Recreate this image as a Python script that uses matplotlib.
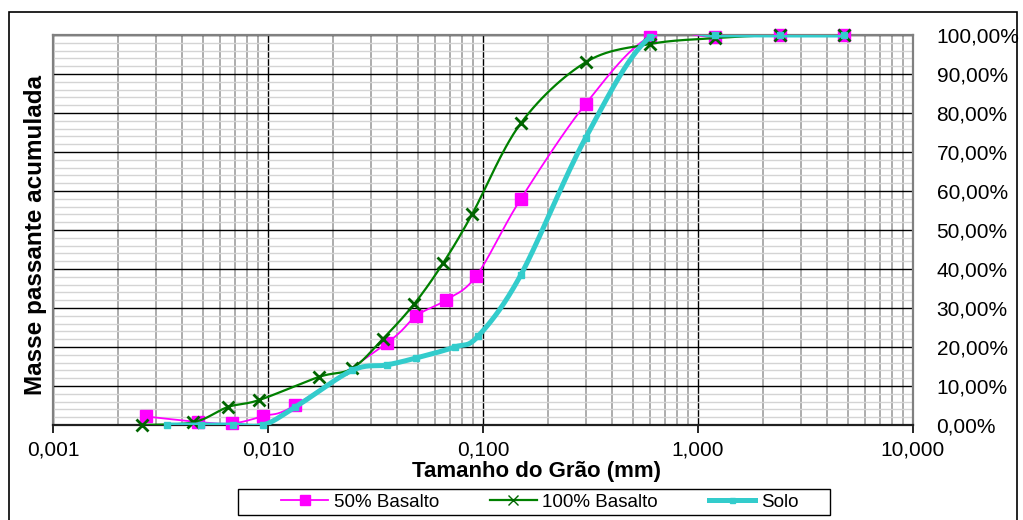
import matplotlib
matplotlib.use("Agg")
import matplotlib.pyplot as plt
import numpy as np
from matplotlib.lines import Line2D
from matplotlib.patches import Rectangle
from matplotlib.ticker import FixedLocator, LogLocator, MultipleLocator, FuncFormatter

plt.rcParams["font.family"] = ["Liberation Sans", "DejaVu Sans"]

# grain size (mm) and cumulative passing (%)
basalto50_x = [0.0027, 0.0047, 0.0068, 0.0095, 0.0134, 0.0357, 0.049, 0.067, 0.093,
               0.15, 0.3, 0.6, 1.2, 2.4, 4.8]
basalto50_y = [2.2, 0.8, 0.4, 2.3, 5.1, 21.0, 28.0, 32.0, 38.2,
               58.0, 82.3, 99.6, 99.5, 100.0, 100.0]

basalto100_x = [0.0026, 0.0045, 0.0065, 0.0091, 0.0172, 0.0246, 0.0341, 0.0478, 0.0652,
                0.0889, 0.15, 0.3, 0.6, 1.2, 2.4, 4.8]
basalto100_y = [0.0, 0.7, 4.6, 6.4, 12.3, 14.5, 22.0, 31.0, 41.5,
                54.0, 77.4, 93.0, 97.7, 99.2, 100.0, 100.0]

solo_x = [0.0034, 0.0049, 0.0069, 0.0095, 0.0134, 0.0246, 0.0357, 0.049, 0.074, 0.095,
          0.15, 0.3, 0.6, 1.2, 2.4, 4.8]
solo_y = [0.0, 0.0, 0.0, 0.0, 4.6, 14.0, 15.4, 17.2, 20.0, 22.8,
          38.5, 73.6, 99.5, 100.0, 100.0, 100.0]

series_names = ["50% Basalto", "100% Basalto", "Solo"]
x_ticks = [0.001, 0.01, 0.1, 1, 10]
x_labels = ["0,001", "0,010", "0,100", "1,000", "10,000"]


def smooth(xs, ys, n=30):
    """Bezier smoothing (Catmull-Rom) in log-x space, like spreadsheet smoothed lines."""
    p = np.column_stack([np.log10(xs), ys])
    pts = [p[0]]
    t = np.linspace(0, 1, n)[1:, None]
    for i in range(len(p) - 1):
        p0 = p[i - 1] if i > 0 else p[i]
        p1, p2 = p[i], p[i + 1]
        p3 = p[i + 2] if i + 2 < len(p) else p[i + 1]
        c1 = p1 + (p2 - p0) / 6
        c2 = p2 - (p3 - p1) / 6
        seg = (1 - t) ** 3 * p1 + 3 * (1 - t) ** 2 * t * c1 + 3 * (1 - t) * t ** 2 * c2 + t ** 3 * p2
        pts.extend(seg)
    pts = np.array(pts)
    return 10 ** pts[:, 0], pts[:, 1]


W, H = 1023, 520
fig = plt.figure(figsize=(W / 100, H / 100), dpi=100)
ax = fig.add_axes([53 / W, 95 / H, 860 / W, 390 / H])

styles = [
    dict(color="#ff00ff", lw=1.3, marker="s", ms=9, mec="#ff00ff", mfc="#ff00ff", z=3),
    dict(color="#008000", lw=1.6, marker="x", ms=9, mec="#006400", mfc="#006400", z=4),
    dict(color="#33cccc", lw=3.6, marker="s", ms=4.5, mec="#33cccc", mfc="#33cccc", z=5),
]
data = [(basalto50_x, basalto50_y), (basalto100_x, basalto100_y), (solo_x, solo_y)]

handles = []
for (xs, ys), st, name in zip(data, styles, series_names):
    sx, sy = smooth(xs, ys)
    ax.plot(sx, sy, color=st["color"], lw=st["lw"], zorder=st["z"], solid_capstyle="round")
    ax.plot(xs, ys, ls="none", marker=st["marker"], ms=st["ms"], mec=st["mec"],
            mfc=st["mfc"], mew=2 if st["marker"] == "x" else 1, zorder=st["z"] + 0.1,
            clip_on=False)
    handles.append(Line2D([], [], color=st["color"], lw=st["lw"], marker=st["marker"],
                          ms=st["ms"] * 0.8, mec=st["mec"], mfc=st["mfc"], label=name))

ax.set_xscale("log")
ax.set_xlim(0.001, 10)
ax.set_ylim(0, 100)

ax.xaxis.set_major_locator(FixedLocator(x_ticks))
ax.set_xticklabels(x_labels)
ax.xaxis.set_minor_locator(LogLocator(base=10, subs=np.arange(2, 10)))
ax.xaxis.set_minor_formatter(FuncFormatter(lambda v, p: ""))
ax.tick_params(axis="x", which="major", length=6, width=1.2, direction="out",
               labelsize=15, pad=5, color="black")
ax.tick_params(axis="x", which="minor", length=0)

ax.yaxis.tick_right()
ax.yaxis.set_major_locator(MultipleLocator(10))
ax.yaxis.set_minor_locator(MultipleLocator(2))
ax.yaxis.set_major_formatter(FuncFormatter(lambda v, p: f"{v:.2f}%".replace(".", ",")))
ax.tick_params(axis="y", which="both", length=0, labelsize=15, pad=17)

ax.grid(which="minor", axis="y", color="#d4d4d4", lw=1.0, ls="-", zorder=0)
ax.grid(which="minor", axis="x", color="#a6a6a6", lw=1.3, ls="-", zorder=0)
ax.grid(which="major", axis="both", color="black", lw=1.0, ls="-", zorder=1)
ax.set_axisbelow(True)

for side in ["top", "left", "right"]:
    ax.spines[side].set_color("#808080")
    ax.spines[side].set_linewidth(1.6)
ax.spines["bottom"].set_color("#202020")
ax.spines["bottom"].set_linewidth(1.6)

fig.text(36 / W, 1 - 235 / H, "Masse passante acumulada", rotation=90, ha="center",
         va="center", fontsize=17.5, fontweight="bold")
fig.text(536 / W, 1 - 472 / H, "Tamanho do Grão (mm)", ha="center", va="center",
         fontsize=16, fontweight="bold")

# legend entries without frame; the box is drawn separately, wider than its content
fig.legend(handles=handles, loc="center", bbox_to_anchor=(540 / W, 1 - 502 / H),
           ncol=3, fontsize=13.5, frameon=False, handlelength=2.5, handletextpad=0.3,
           columnspacing=2.7, borderpad=0.0)
fig.patches.append(Rectangle((238 / W, 1 - 515 / H), 592 / W, 26 / H,
                             transform=fig.transFigure, fill=False, ec="black", lw=1.0))

fig.patches.append(Rectangle((9 / W, -0.02), 1008 / W, 1 - 12 / H + 0.02,
                             transform=fig.transFigure, fill=False, ec="black", lw=1.2))

fig.savefig("out.png", dpi=100)
